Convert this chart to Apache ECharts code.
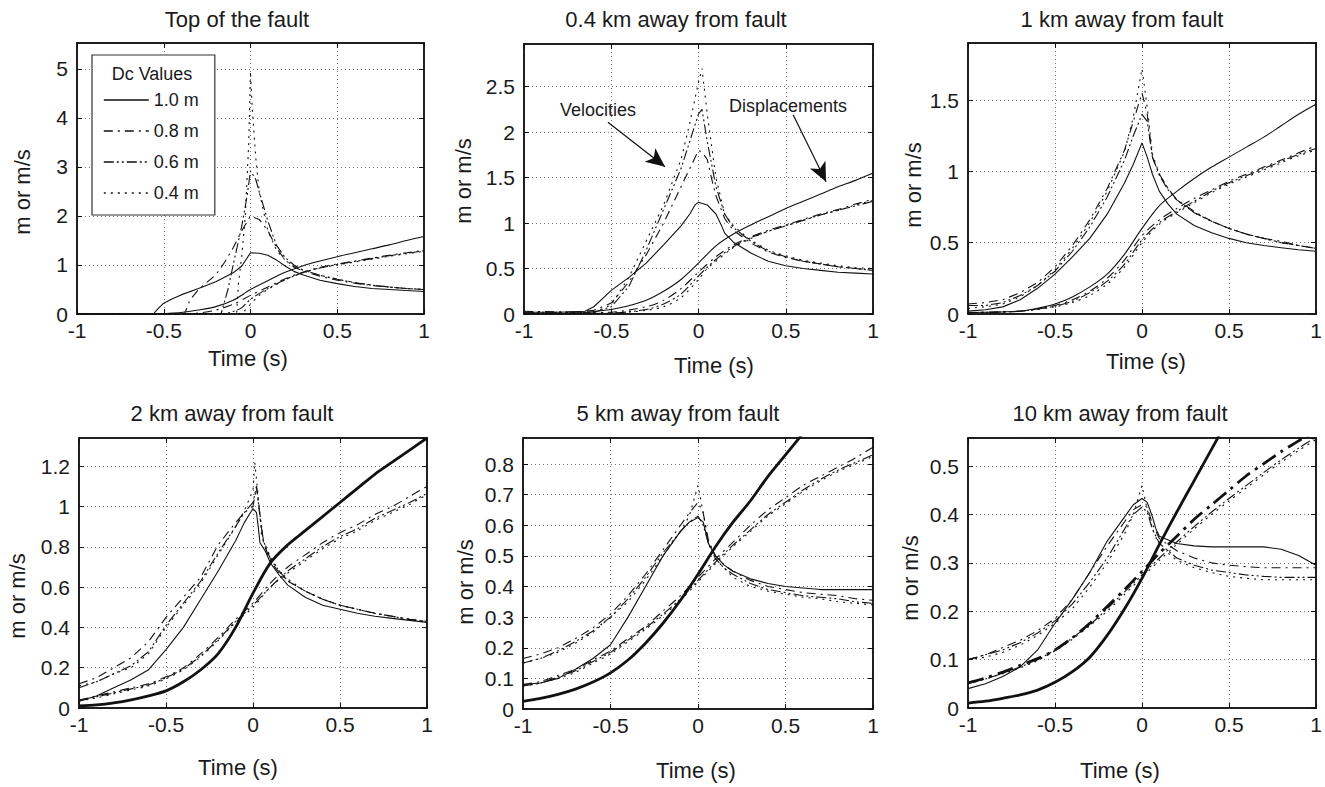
<!DOCTYPE html>
<html>
<head>
<meta charset="utf-8">
<script src="https://cdn.jsdelivr.net/npm/echarts@6/dist/echarts.min.js"></script>
<style>
  html, body { margin: 0; padding: 0; background: #fff; }
  #main { width: 1325px; height: 787px; }
</style>
</head>
<body>
<div id="main"></div>
<script>
// Dc values (legend)
const dcNames = ['1.0 m', '0.8 m', '0.6 m', '0.4 m'];
const xTicks = [-1, -0.5, 0, 0.5, 1];

// ---- Top of the fault ----
const topVel = [
  [[-1,0],[-0.56,0],[-0.53,0.12],[-0.5,0.22],[-0.45,0.31],[-0.4,0.39],[-0.3,0.52],[-0.2,0.66],[-0.1,0.84],[-0.05,0.98],[0,1.25],[0.05,1.24],[0.1,1.2],[0.15,1.1],[0.2,0.98],[0.25,0.87],[0.3,0.8],[0.4,0.69],[0.5,0.62],[0.6,0.56],[0.7,0.52],[0.8,0.5],[0.9,0.48],[1,0.46]],
  [[-1,0],[-0.38,0],[-0.35,0.28],[-0.3,0.5],[-0.25,0.65],[-0.2,0.8],[-0.15,1.05],[-0.1,1.35],[-0.05,1.7],[0,2.0],[0.05,1.93],[0.1,1.7],[0.15,1.35],[0.2,1.1],[0.25,0.96],[0.3,0.88],[0.4,0.77],[0.5,0.69],[0.6,0.63],[0.7,0.58],[0.8,0.55],[0.9,0.52],[1,0.5]],
  [[-1,0],[-0.17,0],[-0.13,0.5],[-0.1,1.0],[-0.05,1.8],[-0.02,2.4],[0,2.92],[0.03,2.75],[0.05,2.5],[0.1,1.9],[0.15,1.4],[0.2,1.15],[0.25,1.0],[0.3,0.9],[0.4,0.79],[0.5,0.71],[0.6,0.64],[0.7,0.59],[0.8,0.55],[0.9,0.52],[1,0.5]],
  [[-1,0],[-0.08,0],[-0.07,0.6],[-0.05,1.2],[-0.03,2.0],[-0.01,3.5],[0,4.95],[0.01,4.2],[0.03,3.2],[0.05,2.5],[0.1,1.7],[0.15,1.3],[0.2,1.1],[0.25,0.98],[0.3,0.9],[0.4,0.79],[0.5,0.71],[0.6,0.64],[0.7,0.59],[0.8,0.55],[0.9,0.52],[1,0.5]]
];
const topDisp = [
  [[-1,0],[-0.55,0],[-0.5,0.01],[-0.4,0.03],[-0.3,0.08],[-0.2,0.15],[-0.1,0.28],[0,0.5],[0.1,0.68],[0.2,0.85],[0.3,0.98],[0.4,1.08],[0.5,1.17],[0.6,1.25],[0.7,1.33],[0.8,1.41],[0.9,1.5],[1,1.58]],
  [[-1,0],[-0.38,0],[-0.3,0.02],[-0.2,0.08],[-0.1,0.2],[0,0.38],[0.1,0.55],[0.2,0.72],[0.3,0.85],[0.4,0.95],[0.5,1.02],[0.6,1.08],[0.7,1.14],[0.8,1.2],[0.9,1.25],[1,1.3]],
  [[-1,0],[-0.17,0],[-0.1,0.05],[-0.05,0.13],[0,0.3],[0.1,0.52],[0.2,0.7],[0.3,0.84],[0.4,0.94],[0.5,1.01],[0.6,1.07],[0.7,1.13],[0.8,1.19],[0.9,1.24],[1,1.29]],
  [[-1,0],[-0.08,0],[-0.04,0.05],[0,0.2],[0.05,0.38],[0.1,0.5],[0.2,0.7],[0.3,0.84],[0.4,0.94],[0.5,1.0],[0.6,1.06],[0.7,1.12],[0.8,1.18],[0.9,1.23],[1,1.28]]
];

// ---- 0.4 km ----
const km04Vel = [
  [[-1,0.02],[-0.8,0.02],[-0.65,0.03],[-0.6,0.08],[-0.55,0.17],[-0.5,0.26],[-0.4,0.4],[-0.3,0.56],[-0.2,0.76],[-0.1,0.97],[-0.05,1.1],[-0.02,1.2],[0,1.23],[0.05,1.2],[0.1,1.1],[0.13,0.98],[0.15,0.89],[0.2,0.79],[0.3,0.67],[0.4,0.58],[0.5,0.53],[0.6,0.5],[0.7,0.48],[0.8,0.46],[0.9,0.45],[1,0.44]],
  [[-1,0.03],[-0.7,0.02],[-0.6,0.04],[-0.5,0.12],[-0.4,0.35],[-0.3,0.65],[-0.2,1.0],[-0.1,1.4],[-0.05,1.6],[0,1.8],[0.02,1.78],[0.05,1.7],[0.08,1.45],[0.1,1.3],[0.15,1.05],[0.2,0.92],[0.3,0.78],[0.4,0.68],[0.5,0.62],[0.6,0.58],[0.7,0.55],[0.8,0.52],[0.9,0.5],[1,0.48]],
  [[-1,0.02],[-0.6,0.02],[-0.5,0.08],[-0.4,0.3],[-0.3,0.7],[-0.2,1.15],[-0.1,1.6],[-0.05,1.9],[0,2.2],[0.02,2.25],[0.05,1.9],[0.1,1.4],[0.15,1.1],[0.2,0.95],[0.3,0.8],[0.4,0.69],[0.5,0.63],[0.6,0.58],[0.7,0.55],[0.8,0.52],[0.9,0.5],[1,0.48]],
  [[-1,0.01],[-0.6,0.02],[-0.5,0.1],[-0.4,0.4],[-0.3,0.8],[-0.2,1.2],[-0.1,1.7],[-0.05,2.1],[0,2.55],[0.02,2.7],[0.05,2.2],[0.1,1.5],[0.15,1.1],[0.2,0.97],[0.3,0.81],[0.4,0.7],[0.5,0.64],[0.6,0.59],[0.7,0.56],[0.8,0.53],[0.9,0.51],[1,0.5]]
];
const km04Disp = [
  [[-1,0],[-0.7,0.01],[-0.5,0.05],[-0.4,0.09],[-0.3,0.15],[-0.2,0.25],[-0.1,0.38],[0,0.56],[0.1,0.75],[0.2,0.88],[0.3,0.98],[0.4,1.07],[0.5,1.16],[0.6,1.24],[0.7,1.32],[0.8,1.4],[0.9,1.47],[1,1.55]],
  [[-1,0],[-0.5,0.02],[-0.3,0.08],[-0.2,0.15],[-0.1,0.28],[0,0.46],[0.1,0.63],[0.2,0.76],[0.3,0.85],[0.4,0.92],[0.5,0.98],[0.6,1.04],[0.7,1.1],[0.8,1.15],[0.9,1.21],[1,1.26]],
  [[-1,0],[-0.5,0.01],[-0.3,0.05],[-0.2,0.11],[-0.1,0.22],[0,0.42],[0.1,0.6],[0.2,0.74],[0.3,0.84],[0.4,0.91],[0.5,0.97],[0.6,1.03],[0.7,1.09],[0.8,1.14],[0.9,1.19],[1,1.24]],
  [[-1,0],[-0.5,0.01],[-0.3,0.04],[-0.2,0.08],[-0.1,0.18],[0,0.38],[0.05,0.5],[0.1,0.58],[0.2,0.73],[0.3,0.83],[0.4,0.91],[0.5,0.97],[0.6,1.03],[0.7,1.09],[0.8,1.14],[0.9,1.2],[1,1.25]]
];

// ---- 1 km ----
const km1Vel = [
  [[-1,0.02],[-0.9,0.03],[-0.8,0.05],[-0.7,0.1],[-0.6,0.18],[-0.5,0.28],[-0.4,0.4],[-0.3,0.53],[-0.2,0.7],[-0.1,0.92],[-0.05,1.05],[0,1.2],[0.03,1.1],[0.06,0.98],[0.1,0.86],[0.15,0.77],[0.2,0.7],[0.3,0.62],[0.4,0.57],[0.5,0.53],[0.6,0.5],[0.7,0.48],[0.8,0.465],[0.9,0.45],[1,0.44]],
  [[-1,0.07],[-0.9,0.08],[-0.8,0.1],[-0.7,0.15],[-0.6,0.22],[-0.5,0.33],[-0.4,0.48],[-0.3,0.66],[-0.2,0.88],[-0.1,1.15],[-0.05,1.35],[0,1.55],[0.03,1.4],[0.06,1.1],[0.1,0.98],[0.15,0.88],[0.2,0.8],[0.3,0.72],[0.4,0.65],[0.5,0.6],[0.6,0.56],[0.7,0.53],[0.8,0.51],[0.9,0.48],[1,0.46]],
  [[-1,0.06],[-0.9,0.06],[-0.8,0.08],[-0.7,0.13],[-0.6,0.2],[-0.5,0.3],[-0.4,0.44],[-0.3,0.61],[-0.2,0.82],[-0.1,1.08],[-0.05,1.25],[0,1.4],[0.03,1.35],[0.06,1.1],[0.1,0.97],[0.15,0.87],[0.2,0.8],[0.3,0.71],[0.4,0.65],[0.5,0.6],[0.6,0.56],[0.7,0.53],[0.8,0.5],[0.9,0.48],[1,0.46]],
  [[-1,0.04],[-0.9,0.05],[-0.8,0.07],[-0.7,0.12],[-0.6,0.2],[-0.5,0.31],[-0.4,0.46],[-0.3,0.64],[-0.2,0.86],[-0.1,1.14],[-0.05,1.38],[0,1.72],[0.03,1.45],[0.06,1.12],[0.1,0.98],[0.15,0.88],[0.2,0.8],[0.3,0.71],[0.4,0.65],[0.5,0.6],[0.6,0.56],[0.7,0.53],[0.8,0.5],[0.9,0.48],[1,0.46]]
];
const km1Disp = [
  [[-1,0.01],[-0.8,0.015],[-0.7,0.02],[-0.6,0.04],[-0.5,0.07],[-0.4,0.12],[-0.3,0.19],[-0.2,0.28],[-0.1,0.42],[0,0.6],[0.1,0.76],[0.2,0.86],[0.3,0.95],[0.4,1.03],[0.5,1.1],[0.6,1.17],[0.7,1.24],[0.8,1.32],[0.9,1.4],[1,1.47]],
  [[-1,0.01],[-0.7,0.02],[-0.5,0.06],[-0.4,0.1],[-0.3,0.16],[-0.2,0.25],[-0.1,0.38],[0,0.55],[0.1,0.66],[0.2,0.74],[0.3,0.81],[0.4,0.87],[0.5,0.93],[0.6,0.98],[0.7,1.03],[0.8,1.08],[0.9,1.13],[1,1.18]],
  [[-1,0.01],[-0.7,0.02],[-0.5,0.055],[-0.4,0.09],[-0.3,0.15],[-0.2,0.23],[-0.1,0.35],[0,0.52],[0.1,0.64],[0.2,0.72],[0.3,0.79],[0.4,0.86],[0.5,0.92],[0.6,0.97],[0.7,1.02],[0.8,1.07],[0.9,1.12],[1,1.16]],
  [[-1,0.01],[-0.7,0.02],[-0.5,0.05],[-0.4,0.08],[-0.3,0.13],[-0.2,0.21],[-0.1,0.33],[0,0.5],[0.1,0.63],[0.2,0.71],[0.3,0.78],[0.4,0.85],[0.5,0.91],[0.6,0.96],[0.7,1.01],[0.8,1.06],[0.9,1.11],[1,1.15]]
];

// ---- 2 km ----
const km2Vel = [
  [[-1,0.035],[-0.9,0.06],[-0.8,0.1],[-0.7,0.14],[-0.6,0.19],[-0.5,0.29],[-0.4,0.4],[-0.3,0.54],[-0.2,0.68],[-0.1,0.83],[-0.05,0.92],[0,0.99],[0.02,0.97],[0.03,0.9],[0.04,0.82],[0.07,0.78],[0.1,0.72],[0.15,0.66],[0.2,0.61],[0.3,0.55],[0.4,0.51],[0.5,0.49],[0.6,0.47],[0.7,0.455],[0.8,0.445],[0.9,0.435],[1,0.425]],
  [[-1,0.12],[-0.9,0.15],[-0.8,0.2],[-0.7,0.25],[-0.6,0.33],[-0.5,0.45],[-0.4,0.55],[-0.3,0.65],[-0.2,0.81],[-0.1,0.92],[-0.05,0.97],[0,1.0],[0.02,1.1],[0.04,0.95],[0.06,0.82],[0.1,0.73],[0.15,0.67],[0.2,0.63],[0.3,0.58],[0.4,0.54],[0.5,0.51],[0.6,0.49],[0.7,0.47],[0.8,0.455],[0.9,0.44],[1,0.43]],
  [[-1,0.1],[-0.9,0.13],[-0.8,0.17],[-0.7,0.21],[-0.6,0.28],[-0.5,0.41],[-0.4,0.52],[-0.3,0.63],[-0.2,0.77],[-0.1,0.9],[-0.05,0.97],[0,1.02],[0.02,1.1],[0.04,0.96],[0.06,0.83],[0.1,0.74],[0.15,0.68],[0.2,0.63],[0.3,0.58],[0.4,0.54],[0.5,0.51],[0.6,0.49],[0.7,0.47],[0.8,0.455],[0.9,0.44],[1,0.43]],
  [[-1,0.11],[-0.9,0.13],[-0.8,0.17],[-0.7,0.2],[-0.6,0.27],[-0.5,0.4],[-0.4,0.51],[-0.3,0.62],[-0.2,0.76],[-0.1,0.9],[-0.05,0.98],[0,1.08],[0.01,1.22],[0.03,1.05],[0.05,0.85],[0.1,0.75],[0.15,0.68],[0.2,0.64],[0.3,0.58],[0.4,0.54],[0.5,0.51],[0.6,0.49],[0.7,0.47],[0.8,0.455],[0.9,0.44],[1,0.425]]
];
const km2Disp = [
  [[-1,0.01],[-0.9,0.015],[-0.8,0.025],[-0.7,0.04],[-0.6,0.06],[-0.5,0.085],[-0.4,0.13],[-0.3,0.19],[-0.2,0.27],[-0.1,0.4],[0,0.57],[0.1,0.72],[0.2,0.81],[0.3,0.88],[0.4,0.95],[0.5,1.02],[0.6,1.09],[0.7,1.16],[0.8,1.22],[0.9,1.28],[1,1.34]],
  [[-1,0.04],[-0.9,0.06],[-0.8,0.08],[-0.7,0.1],[-0.6,0.12],[-0.5,0.155],[-0.4,0.2],[-0.3,0.27],[-0.2,0.35],[-0.1,0.44],[0,0.52],[0.1,0.62],[0.2,0.7],[0.3,0.76],[0.4,0.82],[0.5,0.87],[0.6,0.91],[0.7,0.96],[0.8,1.0],[0.9,1.05],[1,1.1]],
  [[-1,0.035],[-0.9,0.055],[-0.8,0.075],[-0.7,0.095],[-0.6,0.115],[-0.5,0.15],[-0.4,0.195],[-0.3,0.26],[-0.2,0.34],[-0.1,0.43],[0,0.51],[0.1,0.6],[0.2,0.68],[0.3,0.74],[0.4,0.8],[0.5,0.85],[0.6,0.89],[0.7,0.94],[0.8,0.98],[0.9,1.02],[1,1.065]],
  [[-1,0.035],[-0.9,0.05],[-0.8,0.07],[-0.7,0.09],[-0.6,0.11],[-0.5,0.145],[-0.4,0.19],[-0.3,0.255],[-0.2,0.335],[-0.1,0.425],[0,0.5],[0.1,0.6],[0.2,0.67],[0.3,0.73],[0.4,0.79],[0.5,0.84],[0.6,0.88],[0.7,0.93],[0.8,0.97],[0.9,1.01],[1,1.06]]
];

// ---- 5 km ----
const km5Vel = [
  [[-1,0.08],[-0.9,0.085],[-0.8,0.1],[-0.7,0.13],[-0.6,0.165],[-0.5,0.21],[-0.4,0.3],[-0.3,0.4],[-0.2,0.5],[-0.1,0.58],[-0.05,0.61],[0,0.625],[0.03,0.61],[0.06,0.54],[0.1,0.5],[0.15,0.47],[0.2,0.45],[0.3,0.425],[0.4,0.41],[0.5,0.4],[0.6,0.395],[0.7,0.39],[0.8,0.39],[0.9,0.39],[1,0.39]],
  [[-1,0.165],[-0.9,0.18],[-0.8,0.2],[-0.7,0.23],[-0.6,0.265],[-0.5,0.31],[-0.4,0.37],[-0.3,0.44],[-0.2,0.52],[-0.1,0.6],[-0.05,0.64],[0,0.675],[0.03,0.64],[0.06,0.55],[0.1,0.5],[0.15,0.47],[0.2,0.45],[0.3,0.42],[0.4,0.4],[0.5,0.39],[0.6,0.38],[0.7,0.375],[0.8,0.37],[0.9,0.36],[1,0.355]],
  [[-1,0.15],[-0.9,0.165],[-0.8,0.19],[-0.7,0.22],[-0.6,0.255],[-0.5,0.3],[-0.4,0.36],[-0.3,0.43],[-0.2,0.51],[-0.1,0.58],[-0.05,0.61],[0,0.63],[0.03,0.6],[0.06,0.54],[0.1,0.49],[0.15,0.46],[0.2,0.44],[0.3,0.41],[0.4,0.39],[0.5,0.38],[0.6,0.37],[0.7,0.365],[0.8,0.36],[0.9,0.35],[1,0.345]],
  [[-1,0.15],[-0.9,0.165],[-0.8,0.185],[-0.7,0.215],[-0.6,0.25],[-0.5,0.3],[-0.4,0.35],[-0.3,0.42],[-0.2,0.5],[-0.1,0.58],[-0.05,0.63],[0,0.73],[0.03,0.64],[0.06,0.54],[0.1,0.49],[0.15,0.46],[0.2,0.43],[0.3,0.4],[0.4,0.385],[0.5,0.375],[0.6,0.365],[0.7,0.36],[0.8,0.35],[0.9,0.345],[1,0.34]]
];
const km5Disp = [
  [[-1,0.025],[-0.9,0.035],[-0.8,0.048],[-0.7,0.065],[-0.6,0.088],[-0.5,0.118],[-0.4,0.16],[-0.3,0.215],[-0.2,0.28],[-0.1,0.355],[0,0.44],[0.1,0.53],[0.2,0.61],[0.3,0.68],[0.4,0.76],[0.5,0.83],[0.6,0.9],[0.7,0.97],[0.8,1.04],[0.9,1.11],[1,1.18]],
  [[-1,0.08],[-0.9,0.09],[-0.8,0.11],[-0.7,0.13],[-0.6,0.16],[-0.5,0.19],[-0.4,0.23],[-0.3,0.27],[-0.2,0.32],[-0.1,0.37],[0,0.43],[0.1,0.49],[0.2,0.545],[0.3,0.6],[0.4,0.65],[0.5,0.69],[0.6,0.73],[0.7,0.76],[0.8,0.79],[0.9,0.82],[1,0.855]],
  [[-1,0.075],[-0.9,0.085],[-0.8,0.105],[-0.7,0.125],[-0.6,0.155],[-0.5,0.185],[-0.4,0.225],[-0.3,0.265],[-0.2,0.31],[-0.1,0.36],[0,0.42],[0.1,0.48],[0.2,0.535],[0.3,0.585],[0.4,0.635],[0.5,0.675],[0.6,0.715],[0.7,0.75],[0.8,0.78],[0.9,0.805],[1,0.83]],
  [[-1,0.075],[-0.9,0.085],[-0.8,0.1],[-0.7,0.12],[-0.6,0.15],[-0.5,0.18],[-0.4,0.22],[-0.3,0.26],[-0.2,0.305],[-0.1,0.355],[0,0.415],[0.1,0.475],[0.2,0.53],[0.3,0.58],[0.4,0.63],[0.5,0.67],[0.6,0.71],[0.7,0.745],[0.8,0.775],[0.9,0.8],[1,0.825]]
];

// ---- 10 km ----
const km10Vel = [
  [[-1,0.04],[-0.9,0.05],[-0.8,0.065],[-0.7,0.085],[-0.6,0.12],[-0.5,0.175],[-0.4,0.225],[-0.3,0.28],[-0.2,0.345],[-0.1,0.395],[-0.05,0.42],[0,0.433],[0.03,0.425],[0.06,0.395],[0.08,0.37],[0.1,0.355],[0.2,0.34],[0.3,0.335],[0.4,0.333],[0.5,0.333],[0.6,0.333],[0.7,0.333],[0.8,0.328],[0.9,0.315],[1,0.295]],
  [[-1,0.1],[-0.9,0.11],[-0.8,0.125],[-0.7,0.14],[-0.6,0.16],[-0.5,0.185],[-0.4,0.225],[-0.3,0.28],[-0.2,0.335],[-0.1,0.385],[-0.05,0.41],[0,0.42],[0.03,0.415],[0.06,0.38],[0.1,0.35],[0.2,0.325],[0.3,0.31],[0.4,0.3],[0.5,0.295],[0.6,0.292],[0.7,0.29],[0.8,0.29],[0.9,0.29],[1,0.29]],
  [[-1,0.1],[-0.9,0.11],[-0.8,0.12],[-0.7,0.135],[-0.6,0.155],[-0.5,0.18],[-0.4,0.215],[-0.3,0.26],[-0.2,0.31],[-0.1,0.37],[-0.05,0.4],[0,0.415],[0.03,0.405],[0.06,0.37],[0.1,0.34],[0.2,0.31],[0.3,0.295],[0.4,0.285],[0.5,0.28],[0.6,0.275],[0.7,0.272],[0.8,0.27],[0.9,0.27],[1,0.27]],
  [[-1,0.1],[-0.9,0.105],[-0.8,0.115],[-0.7,0.13],[-0.6,0.15],[-0.5,0.175],[-0.4,0.205],[-0.3,0.25],[-0.2,0.3],[-0.1,0.36],[-0.05,0.4],[0,0.46],[0.03,0.41],[0.06,0.37],[0.1,0.335],[0.2,0.305],[0.3,0.29],[0.4,0.28],[0.5,0.272],[0.6,0.268],[0.7,0.265],[0.8,0.265],[0.9,0.265],[1,0.265]]
];
const km10Disp = [
  [[-1,0.01],[-0.9,0.014],[-0.8,0.02],[-0.7,0.027],[-0.6,0.037],[-0.5,0.053],[-0.4,0.075],[-0.3,0.105],[-0.2,0.15],[-0.1,0.205],[0,0.268],[0.1,0.338],[0.2,0.405],[0.3,0.47],[0.4,0.535],[0.5,0.6],[0.6,0.665],[0.7,0.73],[0.8,0.795],[0.9,0.86],[1,0.925]],
  [[-1,0.052],[-0.9,0.062],[-0.8,0.074],[-0.7,0.088],[-0.6,0.102],[-0.5,0.12],[-0.4,0.145],[-0.3,0.175],[-0.2,0.21],[-0.1,0.245],[0,0.282],[0.1,0.32],[0.2,0.355],[0.3,0.39],[0.4,0.42],[0.5,0.45],[0.6,0.48],[0.7,0.505],[0.8,0.53],[0.9,0.552],[1,0.575]],
  [[-1,0.05],[-0.9,0.06],[-0.8,0.072],[-0.7,0.085],[-0.6,0.1],[-0.5,0.12],[-0.4,0.145],[-0.3,0.172],[-0.2,0.205],[-0.1,0.24],[0,0.275],[0.1,0.31],[0.2,0.343],[0.3,0.375],[0.4,0.405],[0.5,0.433],[0.6,0.46],[0.7,0.487],[0.8,0.513],[0.9,0.537],[1,0.56]],
  [[-1,0.05],[-0.9,0.06],[-0.8,0.071],[-0.7,0.083],[-0.6,0.098],[-0.5,0.118],[-0.4,0.142],[-0.3,0.17],[-0.2,0.2],[-0.1,0.235],[0,0.27],[0.1,0.305],[0.2,0.338],[0.3,0.37],[0.4,0.4],[0.5,0.428],[0.6,0.455],[0.7,0.482],[0.8,0.508],[0.9,0.532],[1,0.555]]
];

// arrows in the 0.4 km panel: [from, to] in data units
const arrowVel = [[-0.519, 2.11], [-0.192, 1.62]];
const arrowDisp = [[0.543, 2.19], [0.731, 1.455]];

const FONT = '"Liberation Sans", Arial, Helvetica, sans-serif';
const INK = '#1a1a1a';

const panels = [
  { title: 'Top of the fault',      vel: topVel,  disp: topDisp,  ymax: 5.53, yint: 1,   thick: [],
    grid: { left: 77,  top: 43,  width: 347, height: 271 }, t: [237, 19],   yl: [22, 192],  xl: [248, 358] },
  { title: '0.4 km away from fault', vel: km04Vel, disp: km04Disp, ymax: 2.97, yint: 0.5, thick: [],
    grid: { left: 524, top: 44,  width: 349, height: 270 }, t: [676, 19],   yl: [463, 181], xl: [714, 365] },
  { title: '1 km away from fault',   vel: km1Vel,  disp: km1Disp,  ymax: 1.9,  yint: 0.5, thick: [],
    grid: { left: 968, top: 43,  width: 348, height: 271 }, t: [1122, 19],  yl: [913, 185], xl: [1146, 361] },
  { title: '2 km away from fault',   vel: km2Vel,  disp: km2Disp,  ymax: 1.34, yint: 0.2, thick: [0],
    grid: { left: 79,  top: 438, width: 348, height: 270 }, t: [232, 413],  yl: [17, 596],  xl: [238, 767] },
  { title: '5 km away from fault',   vel: km5Vel,  disp: km5Disp,  ymax: 0.885, yint: 0.1, thick: [0],
    grid: { left: 523, top: 438, width: 350, height: 271 }, t: [678, 413],  yl: [465, 582], xl: [696, 770] },
  { title: '10 km away from fault',  vel: km10Vel, disp: km10Disp, ymax: 0.558, yint: 0.1, thick: [0, 1],
    grid: { left: 968, top: 438, width: 348, height: 270 }, t: [1120, 413], yl: [910, 578], xl: [1120, 770] }
];

const dashThin  = ['solid', [9, 5, 2, 5], [10, 3, 2, 3, 2, 3], [2, 5]];
const dashThick = ['solid', [16, 6, 3, 6], [16, 5, 3, 5, 3, 5], [3, 6]];

const grids = [], xAxes = [], yAxes = [], series = [], graphics = [];
const splitStyle = { show: true, lineStyle: { color: '#777', width: 1, type: [1, 3] } };
const labelStyle = { color: INK, fontSize: 21, fontFamily: FONT };
const tickStyle = { show: true, inside: true, length: 5, lineStyle: { color: '#111' } };
const frameLine = { show: true, onZero: false, lineStyle: { color: '#111', width: 1.5 } };

panels.forEach((p, i) => {
  grids.push(Object.assign({ show: true, borderColor: '#111', borderWidth: 1.5, backgroundColor: '#fff' }, p.grid));
  xAxes.push({
    gridIndex: i, type: 'value', min: -1, max: 1, interval: 0.5, position: 'bottom',
    axisLine: frameLine, axisTick: tickStyle,
    axisLabel: Object.assign({ margin: 6, formatter: v => String(v) }, labelStyle),
    splitLine: splitStyle
  });
  yAxes.push({
    gridIndex: i, type: 'value', min: 0, max: p.ymax, interval: p.yint, position: 'left',
    axisLine: frameLine, axisTick: tickStyle,
    axisLabel: Object.assign({ margin: 9, showMaxLabel: false, formatter: v => String(+v.toFixed(2)) }, labelStyle),
    splitLine: splitStyle
  });

  const curves = [];
  p.vel.forEach((c, k) => curves.push({ data: c, k: k, thick: false, smooth: false }));
  p.disp.forEach((c, k) => curves.push({ data: c, k: k, thick: p.thick.indexOf(k) >= 0, smooth: 0.3 }));
  curves.forEach(c => {
    series.push({
      name: dcNames[c.k], type: 'line', xAxisIndex: i, yAxisIndex: i,
      data: c.data, symbol: 'none', showSymbol: false, smooth: c.smooth, clip: true,
      silent: true, animation: false, emphasis: { disabled: true },
      itemStyle: { color: '#111' },
      lineStyle: { color: '#111', width: c.thick ? 2.8 : 1.1, type: c.thick ? dashThick[c.k] : dashThin[c.k] },
      z: c.thick ? 3 : 2
    });
  });

  graphics.push({ type: 'text', x: p.t[0], y: p.t[1], z: 100,
    style: { text: p.title, font: '22px ' + FONT, fill: INK, textAlign: 'center', textVerticalAlign: 'middle' } });
  graphics.push({ type: 'text', x: p.yl[0], y: p.yl[1], rotation: Math.PI / 2, z: 100,
    style: { text: 'm or m/s', font: '22px ' + FONT, fill: INK, textAlign: 'center', textVerticalAlign: 'middle' } });
  graphics.push({ type: 'text', x: p.xl[0], y: p.xl[1], z: 100,
    style: { text: 'Time (s)', font: '22px ' + FONT, fill: INK, textAlign: 'center', textVerticalAlign: 'middle' } });
});

// top / right axes of every box (ticks only)
panels.forEach((p, i) => {
  xAxes.push({ gridIndex: i, type: 'value', min: -1, max: 1, interval: 0.5, position: 'top',
    axisLine: frameLine, axisTick: tickStyle, axisLabel: { show: false }, splitLine: { show: false } });
  yAxes.push({ gridIndex: i, type: 'value', min: 0, max: p.ymax, interval: p.yint, position: 'right',
    axisLine: frameLine, axisTick: tickStyle, axisLabel: { show: false }, splitLine: { show: false } });
});

// arrows for the annotations (0.4 km panel)
series.push({
  name: 'arrows', type: 'line', xAxisIndex: 1, yAxisIndex: 1, data: [], silent: true, animation: false,
  markLine: {
    silent: true, animation: false, symbol: ['none', 'arrow'], symbolSize: [13, 19],
    label: { show: false }, emphasis: { disabled: true },
    lineStyle: { color: '#111', width: 1.2, type: 'solid' },
    data: [
      [{ coord: arrowVel[0] }, { coord: arrowVel[1] }],
      [{ coord: arrowDisp[0] }, { coord: arrowDisp[1] }]
    ]
  }
});

graphics.push({ type: 'text', x: 598, y: 110, z: 100,
  style: { text: 'Velocities', font: '18px ' + FONT, fill: INK, textAlign: 'center', textVerticalAlign: 'middle' } });
graphics.push({ type: 'text', x: 788, y: 106, z: 100,
  style: { text: 'Displacements', font: '18px ' + FONT, fill: INK, textAlign: 'center', textVerticalAlign: 'middle' } });
graphics.push({ type: 'text', x: 152, y: 74, z: 100,
  style: { text: 'Dc Values', font: '18px ' + FONT, fill: INK, textAlign: 'center', textVerticalAlign: 'middle' } });

const chart = echarts.init(document.getElementById('main'), null, { renderer: 'svg' });
chart.setOption({
  backgroundColor: '#fff',
  animation: false,
  grid: grids,
  xAxis: xAxes,
  yAxis: yAxes,
  legend: {
    data: dcNames, orient: 'vertical', left: 92, top: 55, selectedMode: false,
    backgroundColor: '#fff', borderColor: '#333', borderWidth: 1.2,
    padding: [36, 16, 13, 11], itemWidth: 45, itemHeight: 14, itemGap: 13,
    textStyle: { fontSize: 18, color: INK, fontFamily: FONT },
    itemStyle: { opacity: 0 },
    lineStyle: { width: 1.6 }, z: 10
  },
  graphic: graphics,
  series: series
});
</script>
</body>
</html>
